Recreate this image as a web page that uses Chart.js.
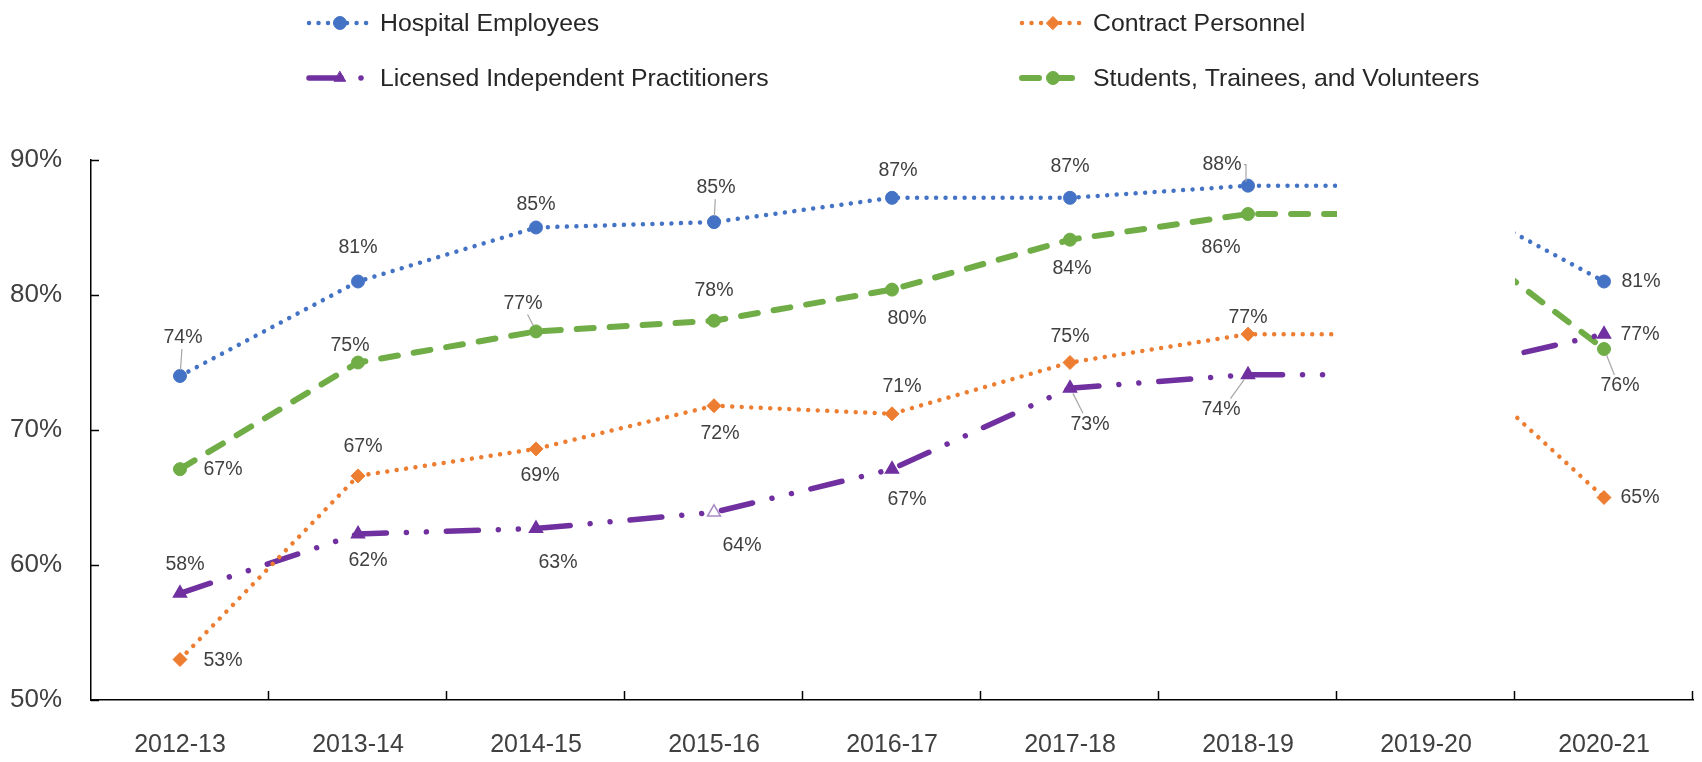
<!DOCTYPE html>
<html>
<head>
<meta charset="utf-8">
<script src="https://cdn.jsdelivr.net/npm/chart.js@4/dist/chart.umd.min.js"></script>
<style>
  html, body { margin: 0; padding: 0; background: #fff; }
  #wrap { width: 1702px; height: 762px; position: relative; }
</style>
</head>
<body>
<div id="wrap"><canvas id="c" width="1702" height="762"></canvas></div>
<script>
// ---------------- data ----------------
const CATEGORIES = ['2012-13','2013-14','2014-15','2015-16','2016-17','2017-18','2018-19','2019-20','2020-21'];
const SERIES_NAMES = ['Hospital Employees','Contract Personnel','Licensed Independent Practitioners','Students, Trainees, and Volunteers'];
// 2019-20 values are carried forward from 2018-19 (the reference hides that year's band)
const HOSPITAL_EMPLOYEES = [74.0, 81.0, 85.0, 85.4, 87.2, 87.2, 88.1, 88.1, 81.0];
const CONTRACT_PERSONNEL = [53.0, 66.6, 68.6, 71.8, 71.2, 75.0, 77.1, 77.1, 65.0];
const LICENSED_PRACTITIONERS = [57.9, 62.3, 62.7, 63.9, 67.1, 73.1, 74.1, 74.1, 77.1];
const STUDENTS_VOLUNTEERS = [67.1, 75.0, 77.3, 78.1, 80.4, 84.1, 86.0, 86.0, 76.0];
const Y_TICKS = [50, 60, 70, 80, 90];
const HIDDEN_CATEGORY = '2019-20';

// ---------------- styles ----------------
const COLORS = ['#4472C4', '#ED7D31', '#7030A0', '#70AD47'];
const TEXT = '#404040';
const REGULAR = "'Liberation Sans', Arial, sans-serif";

// label offsets [dx, dy, leader?] relative to each point (style, not data)
const LABEL_OFFSETS = [
  [[3,-38,1],[0,-34],[0,-23],[2,-34,1],[6,-27],[0,-31],[-26,-21,2],null,[37,0]],
  [[43,1],[5,-29],[4,27],[6,28],[10,-27],[0,-26],[0,-17],null,[36,0]],
  [[5,-29],[10,27],[22,34],[28,33],[15,30],[20,36,1],[-27,35,1],null,[36,0]],
  [[43,0],[-8,-17],[-13,-28,1],[0,-30],[15,29],[2,29],[-27,34],null,[16,37,1]]
];

const hiddenIdx = CATEGORIES.indexOf(HIDDEN_CATEGORY);
function pointRadii(r){ return CATEGORIES.map((c,i)=> i===hiddenIdx ? 0 : r); }

const datasets = [
  { label: SERIES_NAMES[0], data: HOSPITAL_EMPLOYEES, borderColor: COLORS[0], backgroundColor: COLORS[0],
    borderWidth: 4.5, borderDash: [0.01, 9.5], borderCapStyle: 'round',
    pointStyle: 'circle', pointRadius: pointRadii(6.5), pointBackgroundColor: COLORS[0], pointBorderColor: COLORS[0], pointBorderWidth: 1 },
  { label: SERIES_NAMES[1], data: CONTRACT_PERSONNEL, borderColor: COLORS[1], backgroundColor: COLORS[1],
    borderWidth: 4.5, borderDash: [0.01, 9.5], borderCapStyle: 'round',
    pointStyle: 'rectRot', pointRadius: pointRadii(7), pointBackgroundColor: COLORS[1], pointBorderColor: COLORS[1], pointBorderWidth: 1 },
  { label: SERIES_NAMES[2], data: LICENSED_PRACTITIONERS, borderColor: COLORS[2], backgroundColor: COLORS[2],
    borderWidth: 5.5, borderDash: [32, 20, 0.01, 20, 0.01, 20], borderCapStyle: 'round',
    pointStyle: 'triangle', pointRadius: pointRadii(7.5),
    pointBackgroundColor: CATEGORIES.map((c,i)=> i===3 ? '#ffffff' : COLORS[2]),
    pointBorderColor: CATEGORIES.map((c,i)=> i===3 ? '#A98BC4' : COLORS[2]), pointBorderWidth: 1.5 },
  { label: SERIES_NAMES[3], data: STUDENTS_VOLUNTEERS, borderColor: COLORS[3], backgroundColor: COLORS[3],
    borderWidth: 6, borderDash: [17, 16], borderCapStyle: 'round',
    pointStyle: 'circle', pointRadius: pointRadii(6.5), pointBackgroundColor: COLORS[3], pointBorderColor: COLORS[3], pointBorderWidth: 1 }
];

// hide the 2019-20 band (computed from the x scale)
const bandClip = {
  id: 'bandClip',
  beforeDatasetsDraw(chart) {
    const ctx = chart.ctx, xs = chart.scales.x;
    const l = xs.getPixelForValue(hiddenIdx - 0.5), r = xs.getPixelForValue(hiddenIdx + 0.5);
    ctx.save();
    ctx.beginPath();
    ctx.rect(0, 0, l, chart.height);
    ctx.rect(r, 0, chart.width - r, chart.height);
    ctx.clip();
  },
  afterDatasetsDraw(chart) { chart.ctx.restore(); }
};

// inside tick marks
const insideTicks = {
  id: 'insideTicks',
  afterDraw(chart) {
    const ctx = chart.ctx, xs = chart.scales.x, ys = chart.scales.y, a = chart.chartArea;
    ctx.save();
    ctx.strokeStyle = '#000'; ctx.lineWidth = 1.5;
    ys.ticks.forEach(t => {
      const y = Math.round(ys.getPixelForValue(t.value)) + 0.5;
      ctx.beginPath(); ctx.moveTo(a.left, y); ctx.lineTo(a.left + 8, y); ctx.stroke();
    });
    for (let i = 0; i < CATEGORIES.length; i++) {
      const x = Math.round(xs.getPixelForValue(i + 0.5)) - 0.5;
      ctx.beginPath(); ctx.moveTo(x, a.bottom); ctx.lineTo(x, a.bottom - 9); ctx.stroke();
    }
    ctx.restore();
  }
};

// data labels
const pointLabels = {
  id: 'pointLabels',
  afterDraw(chart) {
    const ctx = chart.ctx;
    ctx.save();
    ctx.font = '19.5px ' + REGULAR;
    ctx.textAlign = 'center'; ctx.textBaseline = 'middle';
    chart.data.datasets.forEach((ds, di) => {
      const meta = chart.getDatasetMeta(di);
      meta.data.forEach((pt, i) => {
        const v = ds.data[i], off = LABEL_OFFSETS[di][i];
        if (v == null || !off) return;
        const x = pt.x + off[0], y = pt.y + off[1];
        if (off[2]) {
          ctx.strokeStyle = '#A6A6A6'; ctx.lineWidth = 1.2;
          ctx.beginPath();
          if (off[2] === 2) {
            ctx.moveTo(x + 22, y); ctx.lineTo(pt.x - 2, y); ctx.lineTo(pt.x - 2, pt.y - 4);
          } else {
            const dx = off[0], dy = off[1];
            const len = Math.hypot(dx, dy);
            const sx = pt.x + dx / len * 6, sy = pt.y + dy / len * 6;
            const ex = x - dx * 0.35, ey = y - Math.sign(dy) * 11;
            ctx.moveTo(sx, sy); ctx.lineTo(ex, ey);
          }
          ctx.stroke();
        }
        ctx.fillStyle = TEXT;
        ctx.fillText(Math.round(v) + '%', x, y);
      });
    });
    ctx.restore();
  }
};

// two-column legend
const LEGEND_SLOTS = [[307, 23], [1020, 23], [307, 78], [1020, 78]];
const customLegend = {
  id: 'customLegend',
  afterDraw(chart) {
    const ctx = chart.ctx;
    chart.data.datasets.forEach((ds, di) => {
      const [x0, y] = LEGEND_SLOTS[di];
      ctx.save();
      ctx.strokeStyle = ds.borderColor; ctx.lineWidth = ds.borderWidth;
      ctx.lineCap = ds.borderCapStyle; ctx.setLineDash(ds.borderDash);
      ctx.beginPath(); ctx.moveTo(x0 + 2, y); ctx.lineTo(x0 + 62, y); ctx.stroke();
      ctx.setLineDash([]);
      ctx.fillStyle = ds.pointBackgroundColor instanceof Array ? ds.pointBackgroundColor[0] : ds.pointBackgroundColor;
      ctx.strokeStyle = ds.borderColor; ctx.lineWidth = 1;
      Chart.helpers.drawPoint(ctx, { pointStyle: ds.pointStyle, radius: 6.5, borderWidth: 1, rotation: 0 }, x0 + 33, y);
      ctx.fillStyle = '#262626';
      ctx.font = '24.8px ' + REGULAR;
      ctx.textAlign = 'left'; ctx.textBaseline = 'middle';
      ctx.fillText(ds.label, x0 + 73, y + 1);
      ctx.restore();
    });
  }
};

new Chart(document.getElementById('c'), {
  type: 'line',
  data: { labels: CATEGORIES, datasets },
  plugins: [bandClip, insideTicks, pointLabels, customLegend],
  options: {
    responsive: false,
    animation: false,
    devicePixelRatio: 1,
    layout: { padding: { top: 160, right: 0, left: 0, bottom: 0 } },
    elements: { line: { tension: 0, fill: false } },
    plugins: { legend: { display: false }, tooltip: { enabled: false } },
    scales: {
      x: {
        type: 'category', offset: true,
        grid: { display: false, drawTicks: false },
        border: { display: true, color: '#000', width: 1.5 },
        ticks: { color: TEXT, font: { family: REGULAR, size: 25 }, padding: 30, maxRotation: 0, autoSkip: false },
        afterFit(s) { s.height = 62; }
      },
      y: {
        min: Y_TICKS[0], max: Y_TICKS[Y_TICKS.length - 1],
        afterBuildTicks(s) { s.ticks = Y_TICKS.map(v => ({ value: v })); },
        grid: { display: false, drawTicks: false },
        border: { display: true, color: '#000', width: 1.5 },
        ticks: { color: TEXT, font: { family: REGULAR, size: 26 }, padding: 29, callback: v => v + '%' },
        afterFit(s) { s.width = 91; }
      }
    }
  }
});
</script>
</body>
</html>
